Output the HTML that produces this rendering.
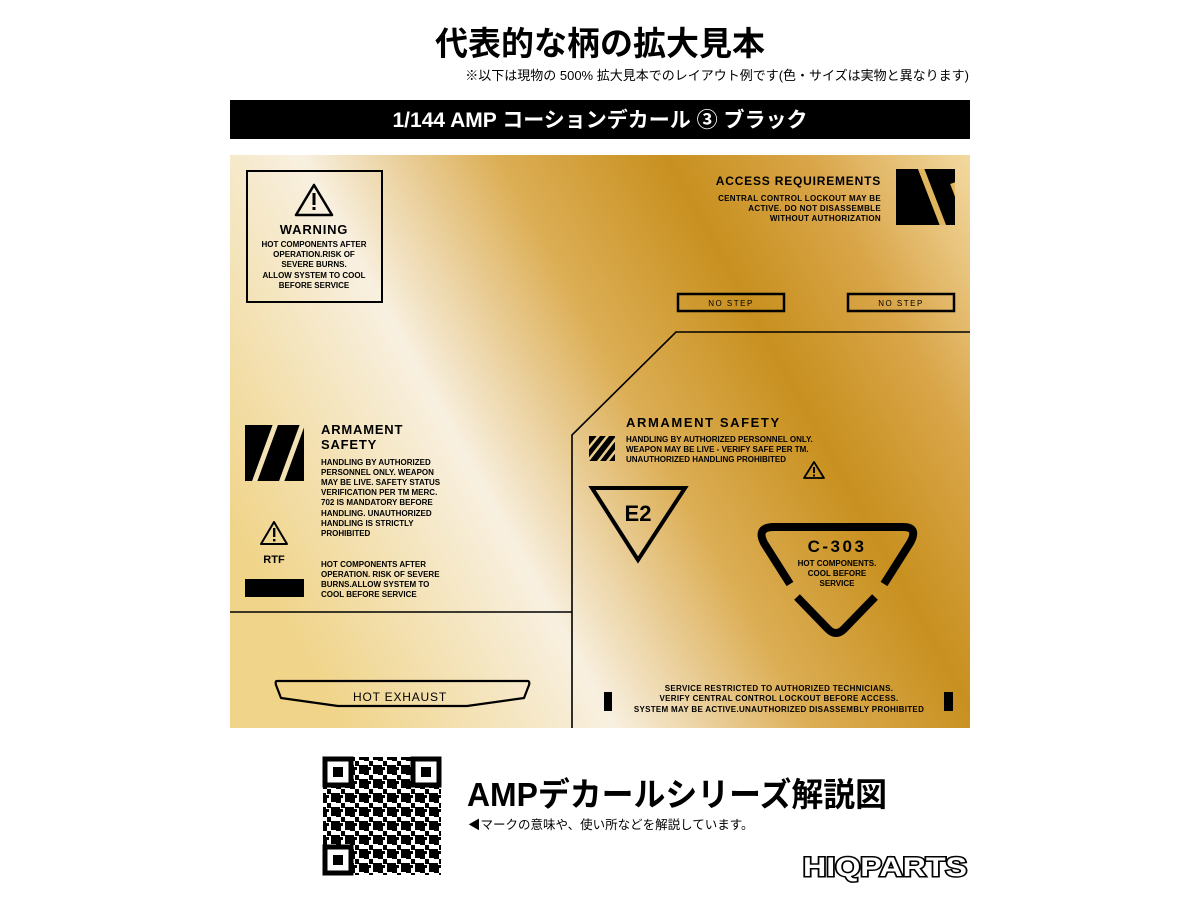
<!DOCTYPE html>
<html><head><meta charset="utf-8"><style>
html,body{margin:0;padding:0;background:#fff;width:1200px;height:900px;overflow:hidden}
svg{display:block}
text{font-family:"Liberation Sans","Noto Sans CJK JP",sans-serif}
.b{font-weight:bold}
</style></head><body>
<svg width="1200" height="900" viewBox="0 0 1200 900" xmlns="http://www.w3.org/2000/svg">
<defs>
<linearGradient id="g" gradientUnits="userSpaceOnUse" x1="300" y1="650" x2="1020" y2="254">
<stop offset="0" stop-color="#f0d48a"/>
<stop offset="0.29" stop-color="#f8f0e0"/>
<stop offset="0.5" stop-color="#dcae55"/>
<stop offset="0.68" stop-color="#c8901f"/>
<stop offset="0.83" stop-color="#d9a548"/>
<stop offset="1" stop-color="#f2d89f"/>
</linearGradient>
<clipPath id="cA"><rect x="896" y="169" width="59" height="56"/></clipPath>
<clipPath id="cL"><rect x="245" y="425" width="59" height="56"/></clipPath>
<clipPath id="cH"><rect x="589" y="436" width="26" height="25"/></clipPath>
<pattern id="qr" width="14" height="14" patternUnits="userSpaceOnUse">
<rect width="14" height="14" fill="#fff"/>
<rect x="0" y="0" width="5" height="5" fill="#000"/><rect x="9" y="0" width="5" height="4" fill="#000"/>
<rect x="5" y="5" width="4" height="5" fill="#000"/><rect x="0" y="9" width="4" height="5" fill="#000"/>
<rect x="9" y="9" width="5" height="5" fill="#000"/><rect x="4" y="11" width="3" height="3" fill="#000"/>
</pattern>
</defs>

<text x="600" y="55" text-anchor="middle" class="b" font-size="33">代表的な柄の拡大見本</text>
<text x="969" y="80" text-anchor="end" font-size="13">※以下は現物の 500% 拡大見本でのレイアウト例です(色・サイズは実物と異なります)</text>
<rect x="230" y="100" width="740" height="39" fill="#000"/>
<text x="600" y="127" text-anchor="middle" class="b" font-size="21" fill="#fff">1/144 AMP コーションデカール ③ ブラック</text>

<rect x="230" y="155" width="740" height="573" fill="url(#g)"/>

<!-- warning box -->
<rect x="247" y="171" width="135" height="131" fill="none" stroke="#000" stroke-width="2"/>
<polygon points="314,185 296,215 332,215" fill="none" stroke="#000" stroke-width="2.5" stroke-linejoin="round"/>
<rect x="312.5" y="193" width="3" height="12" fill="#000"/><rect x="312.5" y="207" width="3" height="3" fill="#000"/>
<text x="314" y="234" text-anchor="middle" class="b" font-size="13" letter-spacing="0.8">WARNING</text>
<g font-size="8" class="b" text-anchor="middle">
<text x="314" y="247">HOT COMPONENTS AFTER</text>
<text x="314" y="257">OPERATION.RISK OF</text>
<text x="314" y="267">SEVERE BURNS.</text>
<text x="314" y="278">ALLOW SYSTEM TO COOL</text>
<text x="314" y="288">BEFORE SERVICE</text>
</g>

<!-- left armament -->
<g clip-path="url(#cL)">
<rect x="245" y="425" width="59" height="56" fill="#000"/>
<line x1="276" y1="423" x2="254" y2="483" stroke="#f3e2b3" stroke-width="5"/>
<line x1="303" y1="423" x2="281" y2="483" stroke="#f3e2b3" stroke-width="5"/>
</g>
<text x="321" y="434" class="b" font-size="13" letter-spacing="0.8">ARMAMENT</text>
<text x="321" y="449" class="b" font-size="13" letter-spacing="0.8">SAFETY</text>
<g font-size="8" class="b">
<text x="321" y="465">HANDLING BY AUTHORIZED</text>
<text x="321" y="475">PERSONNEL ONLY. WEAPON</text>
<text x="321" y="485">MAY BE LIVE. SAFETY STATUS</text>
<text x="321" y="495">VERIFICATION PER TM MERC.</text>
<text x="321" y="505">702 IS MANDATORY BEFORE</text>
<text x="321" y="516">HANDLING. UNAUTHORIZED</text>
<text x="321" y="526">HANDLING IS STRICTLY</text>
<text x="321" y="536">PROHIBITED</text>
<text x="321" y="567">HOT COMPONENTS AFTER</text>
<text x="321" y="577">OPERATION. RISK OF SEVERE</text>
<text x="321" y="587">BURNS.ALLOW SYSTEM TO</text>
<text x="321" y="597">COOL BEFORE SERVICE</text>
</g>
<polygon points="274,522 261,544 287,544" fill="none" stroke="#000" stroke-width="2" stroke-linejoin="round"/>
<rect x="273" y="528" width="2.4" height="9" fill="#000"/><rect x="273" y="539" width="2.4" height="2.4" fill="#000"/>
<text x="274" y="563" text-anchor="middle" class="b" font-size="11">RTF</text>
<rect x="245" y="579" width="59" height="18" fill="#000"/>

<!-- structure lines -->
<g stroke="#000" stroke-width="1.6" fill="none">
<line x1="230" y1="612" x2="572" y2="612"/>
<polyline points="572,728 572,435 676,332 970,332"/>
</g>

<!-- hot exhaust -->
<path d="M277,681 L528,681 Q530,682 529,685 L524,698 L467,706 L338,706 L281,698 L276,685 Q275,681 277,681 Z" fill="none" stroke="#000" stroke-width="2.2" stroke-linejoin="round"/>
<text x="400" y="701" text-anchor="middle" font-size="12" letter-spacing="0.8">HOT EXHAUST</text>

<!-- access requirements -->
<text x="881" y="185" text-anchor="end" class="b" font-size="12" letter-spacing="0.8">ACCESS REQUIREMENTS</text>
<g font-size="8" class="b" text-anchor="end" letter-spacing="0.3">
<text x="881" y="201">CENTRAL CONTROL LOCKOUT MAY BE</text>
<text x="881" y="211">ACTIVE. DO NOT DISASSEMBLE</text>
<text x="881" y="221">WITHOUT AUTHORIZATION</text>
</g>
<g clip-path="url(#cA)">
<rect x="896" y="169" width="59" height="56" fill="#000"/>
<line x1="920" y1="166" x2="944" y2="228" stroke="#e0b65e" stroke-width="6"/>
<line x1="894" y1="186" x2="911" y2="228" stroke="#e0b65e" stroke-width="0"/>
<line x1="953" y1="183" x2="970" y2="228" stroke="#e0b65e" stroke-width="6"/>
</g>
<rect x="678" y="294" width="106" height="17" fill="none" stroke="#000" stroke-width="2.5"/>
<rect x="848" y="294" width="106" height="17" fill="none" stroke="#000" stroke-width="2.5"/>
<text x="731" y="306" text-anchor="middle" font-size="8" letter-spacing="1.5">NO STEP</text>
<text x="901" y="306" text-anchor="middle" font-size="8" letter-spacing="1.5">NO STEP</text>

<!-- right armament -->
<text x="626" y="427" class="b" font-size="13" letter-spacing="1.6">ARMAMENT SAFETY</text>
<g font-size="8" class="b">
<text x="626" y="442">HANDLING BY AUTHORIZED PERSONNEL ONLY.</text>
<text x="626" y="452">WEAPON MAY BE LIVE - VERIFY SAFE PER TM.</text>
<text x="626" y="462">UNAUTHORIZED HANDLING PROHIBITED</text>
</g>
<g clip-path="url(#cH)">
<rect x="589" y="436" width="26" height="25" fill="#000"/>
<g stroke="#e8cc8a" stroke-width="2.5">
<line x1="600" y1="434" x2="587" y2="450"/><line x1="609" y1="434" x2="587" y2="462"/>
<line x1="617" y1="437" x2="597" y2="463"/><line x1="617" y1="449" x2="606" y2="463"/>
</g>
</g>
<polygon points="814,462 804,478 824,478" fill="none" stroke="#000" stroke-width="1.8" stroke-linejoin="round"/>
<rect x="813" y="467" width="2" height="6" fill="#000"/><rect x="813" y="474.5" width="2" height="2" fill="#000"/>

<polygon points="592,488 685,488 638,560" fill="none" stroke="#000" stroke-width="4" stroke-linejoin="miter"/>
<text x="638" y="521" text-anchor="middle" class="b" font-size="22">E2</text>

<g stroke="#000" stroke-width="8" fill="none" stroke-linejoin="round">
<path d="M790,584 L764,543 Q756,527 774,527 L903,527 Q919,527 910,543 L884,584"/>
<path d="M797,597 L828,629 Q836,637 844,629 L875,597"/>
</g>
<text x="837" y="552" text-anchor="middle" class="b" font-size="17" letter-spacing="2.5">C-303</text>
<g font-size="8" class="b" text-anchor="middle">
<text x="837" y="566">HOT COMPONENTS.</text>
<text x="837" y="576">COOL BEFORE</text>
<text x="837" y="586">SERVICE</text>
</g>

<g font-size="8" class="b" text-anchor="middle" letter-spacing="0.3">
<text x="779" y="691">SERVICE RESTRICTED TO AUTHORIZED TECHNICIANS.</text>
<text x="779" y="701">VERIFY CENTRAL CONTROL LOCKOUT BEFORE ACCESS.</text>
<text x="779" y="712">SYSTEM MAY BE ACTIVE.UNAUTHORIZED DISASSEMBLY PROHIBITED</text>
</g>
<rect x="604" y="692" width="8" height="19" fill="#000"/>
<rect x="944" y="692" width="9" height="19" fill="#000"/>

<!-- QR -->
<rect x="323" y="757" width="118" height="118" fill="url(#qr)"/>
<g fill="#fff" stroke="#000">
<rect x="325" y="759" width="26" height="26" stroke-width="5"/>
<rect x="413" y="759" width="26" height="26" stroke-width="5"/>
<rect x="325" y="847" width="26" height="26" stroke-width="5"/>
</g>
<rect x="333" y="767" width="10" height="10" fill="#000"/>
<rect x="421" y="767" width="10" height="10" fill="#000"/>
<rect x="333" y="855" width="10" height="10" fill="#000"/>

<text x="467" y="806" font-size="33" font-weight="bold" textLength="420" lengthAdjust="spacingAndGlyphs">AMPデカールシリーズ解説図</text>
<text x="468" y="829" font-size="12.5">◀マークの意味や、使い所などを解説しています。</text>
<text x="803" y="876" class="b" font-size="27" fill="#fff" stroke="#000" stroke-width="3" paint-order="stroke" textLength="164" lengthAdjust="spacingAndGlyphs">HIQPARTS</text>
</svg>
</body></html>
